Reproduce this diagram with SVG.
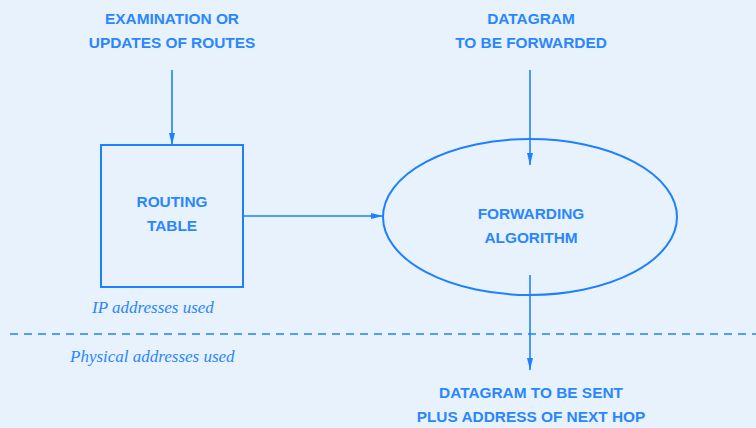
<svg xmlns="http://www.w3.org/2000/svg" width="756" height="428" viewBox="0 0 756 428">
<defs>
<marker id="ah" viewBox="0 0 12 8" refX="12" refY="4" markerWidth="12" markerHeight="8" markerUnits="userSpaceOnUse" orient="auto">
<path d="M0,1 L12,4 L0,7 Z" fill="#1E80FF"/>
</marker>
<style>
.lbl{font-family:"Liberation Sans",Arial,sans-serif;font-size:15.4px;font-weight:bold;fill:#2A86FF;text-anchor:middle}
.note{font-family:"Liberation Serif","Times New Roman",serif;font-size:17px;font-style:italic;fill:#2A86FF}
.shape{fill:none;stroke:#1E80FF;stroke-width:2}
.conn{fill:none;stroke:#1E80FF;stroke-width:1.6}
</style>
</defs>
<rect width="756" height="428" fill="#E8F2FD"/>
<g id="input-routes">
<text class="lbl" x="172" y="24">EXAMINATION OR</text>
<text class="lbl" x="172" y="48">UPDATES OF ROUTES</text>
</g>
<g id="input-datagram">
<text class="lbl" x="531" y="24">DATAGRAM</text>
<text class="lbl" x="531" y="48">TO BE FORWARDED</text>
</g>
<g id="routing-table">
<rect class="shape" x="101" y="145" width="142" height="142"/>
<text class="lbl" x="172" y="207">ROUTING</text>
<text class="lbl" x="172" y="231">TABLE</text>
</g>
<g id="forwarding-algorithm">
<ellipse class="shape" cx="530" cy="217" rx="147" ry="78"/>
<text class="lbl" x="531" y="219">FORWARDING</text>
<text class="lbl" x="531" y="243">ALGORITHM</text>
</g>
<g id="output">
<text class="lbl" x="531" y="398">DATAGRAM TO BE SENT</text>
<text class="lbl" x="531" y="422">PLUS ADDRESS OF NEXT HOP</text>
</g>
<g id="notes">
<text class="note" x="92" y="313">IP addresses used</text>
<text class="note" x="70" y="362">Physical addresses used</text>
</g>
<g id="connectors">
<line class="conn" x1="172" y1="70" x2="172" y2="145" marker-end="url(#ah)"/>
<line class="conn" x1="530" y1="70" x2="530" y2="165" marker-end="url(#ah)"/>
<line class="conn" x1="243" y1="216" x2="383" y2="216" marker-end="url(#ah)"/>
<line class="conn" x1="530" y1="275" x2="530" y2="370" marker-end="url(#ah)"/>
<line x1="10" y1="334" x2="756" y2="334" stroke="#1E80FF" stroke-width="1.5" stroke-dasharray="8,6"/>
</g>
</svg>
